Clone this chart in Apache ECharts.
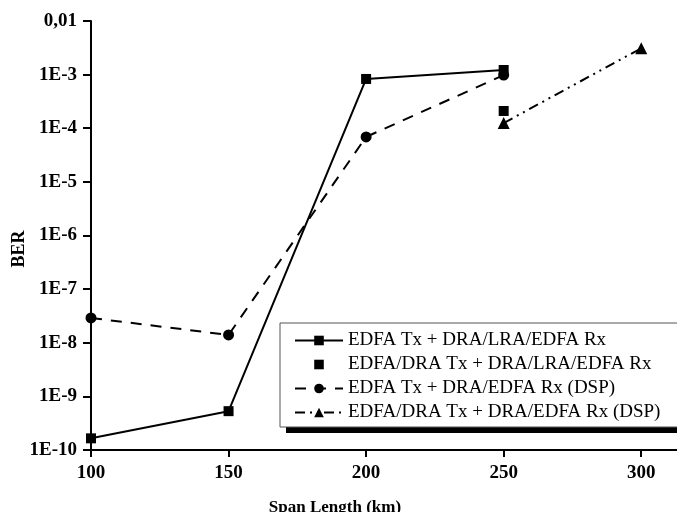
<!DOCTYPE html>
<html>
<head>
<meta charset="utf-8">
<script src="https://cdn.jsdelivr.net/npm/echarts@6/dist/echarts.min.js"></script>
<style>
  html, body { margin: 0; padding: 0; background: #fff; }
  #chart { width: 677px; height: 512px; }
</style>
</head>
<body>
<div id="chart"></div>
<script>
// Span lengths (km) on the x axis
const spanTicks = [100, 150, 200, 250, 300];

// BER decades shown on the log y axis
const berTicks = [1e-10, 1e-9, 1e-8, 1e-7, 1e-6, 1e-5, 1e-4, 1e-3, 1e-2];
const berTickLabels = ['1E-10', '1E-9', '1E-8', '1E-7', '1E-6', '1E-5', '1E-4', '1E-3', '0,01'];

// Measured BER per configuration: [span km, BER]
const seriesNames = [
  'EDFA Tx + DRA/LRA/EDFA Rx',
  'EDFA/DRA Tx + DRA/LRA/EDFA Rx',
  'EDFA Tx + DRA/EDFA Rx (DSP)',
  'EDFA/DRA Tx + DRA/EDFA Rx (DSP)'
];
const edfaTxLra = [[100, 1.65e-10], [150, 5.3e-10], [200, 8.3e-4], [250, 1.22e-3]];
const edfaDraTxLra = [[250, 2.1e-4]];
const edfaTxDsp = [[100, 2.9e-8], [150, 1.4e-8], [200, 6.9e-5], [250, 9.8e-4]];
const edfaDraTxDsp = [[250, 1.25e-4], [300, 3.1e-3]];

const yAxisTitle = 'BER';

const serif = '"Liberation Serif", "Times New Roman", serif';

const chart = echarts.init(document.getElementById('chart'), null, { renderer: 'canvas' });

chart.setOption({
  animation: false,
  backgroundColor: '#fff',
  grid: { left: 91, right: 0, top: 21, bottom: 62, containLabel: false, outerBoundsMode: 'none' },
  xAxis: {
    type: 'value',
    min: 100,
    max: 313,
    interval: 50,
    name: 'Span Length (km)',
    nameLocation: 'middle',
    nameGap: 49,
    nameTextStyle: { fontFamily: serif, fontWeight: 'bold', fontSize: 17, color: '#000', padding: [0, 98, 0, 0] },
    axisLine: { show: true, lineStyle: { color: '#000', width: 2 } },
    axisTick: { show: true, inside: false, length: 7, lineStyle: { color: '#000', width: 2 }, customValues: spanTicks },
    axisLabel: { fontFamily: serif, fontWeight: 'bold', fontSize: 19, color: '#000', margin: 14, customValues: spanTicks },
    splitLine: { show: false }
  },
  yAxis: {
    type: 'log',
    logBase: 10,
    min: berTicks[0],
    max: berTicks[berTicks.length - 1],
    axisLine: { show: true, lineStyle: { color: '#000', width: 2 } },
    axisTick: { show: true, inside: false, length: 8, lineStyle: { color: '#000', width: 2 } },
    axisLabel: {
      fontFamily: serif, fontWeight: 'bold', fontSize: 19, color: '#000', margin: 14,
      formatter: function (v) {
        const i = berTicks.findIndex(t => Math.abs(Math.log10(t) - Math.log10(v)) < 1e-6);
        return i >= 0 ? berTickLabels[i] : '';
      }
    },
    splitLine: { show: false },
    minorTick: { show: false }
  },
  graphic: [
    // y axis title, set just left of the tick labels
    {
      type: 'text',
      x: 19,
      y: 249,
      rotation: Math.PI / 2,
      style: {
        text: yAxisTitle,
        font: 'bold 18px ' + serif,
        fill: '#000',
        align: 'center',
        verticalAlign: 'middle'
      }
    },
    // heavy bar under the legend box
    {
      type: 'rect',
      z: 90,
      shape: { x: 286, y: 426, width: 400, height: 7 },
      style: { fill: '#000' }
    }
  ],
  legend: {
    left: 280,
    top: 323,
    orient: 'vertical',
    align: 'left',
    itemWidth: 48,
    itemHeight: 12,
    itemGap: 5,
    padding: [8, 80, 5, 14],
    backgroundColor: '#fff',
    borderColor: '#555',
    borderWidth: 1,
    borderRadius: 0,
    z: 100,
    textStyle: { fontFamily: serif, fontSize: 19, color: '#000' },
    data: seriesNames
  },
  series: [
    {
      name: seriesNames[0], type: 'line', data: edfaTxLra,
      symbol: 'rect', symbolSize: 10,
      itemStyle: { color: '#000' },
      lineStyle: { color: '#000', width: 2, type: 'solid' }
    },
    {
      name: seriesNames[1], type: 'line', data: edfaDraTxLra,
      symbol: 'rect', symbolSize: 10,
      itemStyle: { color: '#000' },
      lineStyle: { color: '#000', width: 0, opacity: 0 }
    },
    {
      name: seriesNames[2], type: 'line', data: edfaTxDsp,
      symbol: 'circle', symbolSize: 11,
      itemStyle: { color: '#000' },
      lineStyle: { color: '#000', width: 2, type: [11, 9] }
    },
    {
      name: seriesNames[3], type: 'line', data: edfaDraTxDsp,
      symbol: 'triangle', symbolSize: 12,
      itemStyle: { color: '#000' },
      lineStyle: { color: '#000', width: 2, type: [10, 5, 2, 5, 2, 5] }
    }
  ]
});
</script>
</body>
</html>
